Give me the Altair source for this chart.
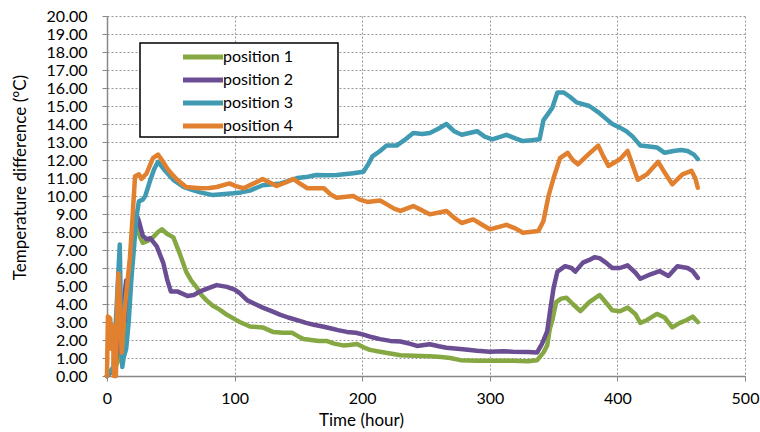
import altair as alt
import pandas as pd

series_names = ["position 1", "position 2", "position 3", "position 4"]
series_colors = ["#86A843", "#6A4D93", "#3F9AB2", "#E1802F"]

x_ticks = [0, 100, 200, 300, 400, 500]
y_ticks = [float(v) for v in range(0, 21)]

position_1 = [(0, 0), (5, 0.3), (10, 1.0), (14, 2.5), (17, 4.5), (20, 7.0), (23, 8.5), (26, 7.7), (28, 7.4),
              (32, 7.5), (36, 7.7), (40, 8.0), (43, 8.15), (47, 7.9), (52, 7.7), (57, 6.8), (62, 5.8), (66, 5.3),
              (70, 4.95), (74, 4.5), (78, 4.2), (83, 3.9), (88, 3.7), (94, 3.4), (99, 3.2), (104, 3.0),
              (112, 2.75), (122, 2.7), (130, 2.45), (138, 2.4), (145, 2.4), (150, 2.2), (154, 2.05), (160, 2.0),
              (166, 1.95), (172, 1.95), (178, 1.8), (185, 1.7), (190, 1.72), (196, 1.78), (201, 1.6), (206, 1.45),
              (214, 1.35), (222, 1.25), (230, 1.15), (240, 1.12), (253, 1.1), (262, 1.05), (269, 1.0), (277, 0.88),
              (290, 0.85), (300, 0.85), (318, 0.85), (330, 0.82), (337, 0.87), (342, 1.3), (345, 1.7), (347, 2.6),
              (349, 3.1), (352, 4.1), (356, 4.3), (360, 4.35), (365, 4.0), (371, 3.6), (378, 4.1), (386, 4.5),
              (392, 4.0), (396, 3.65), (402, 3.6), (408, 3.8), (414, 3.45), (418, 2.95), (423, 3.1), (431, 3.45),
              (437, 3.25), (443, 2.7), (449, 2.95), (454, 3.1), (459, 3.3), (463, 3.0)]

position_2 = [(0, 0), (6, 0.5), (10, 2.0), (13, 4.0), (15, 5.3), (16.5, 3.0), (19, 6.0), (21, 8.0), (23, 9.0),
              (25, 8.6), (28, 7.8), (31, 7.6), (34, 7.65), (39, 7.2), (44, 6.3), (47, 5.4), (50, 4.7), (55, 4.7),
              (63, 4.45), (68, 4.5), (73, 4.7), (80, 4.9), (86, 5.05), (94, 4.95), (100, 4.8), (104, 4.6),
              (110, 4.2), (116, 4.0), (122, 3.8), (129, 3.6), (136, 3.4), (142, 3.25), (149, 3.1), (156, 2.95),
              (162, 2.85), (169, 2.75), (175, 2.65), (181, 2.55), (188, 2.45), (195, 2.4), (201, 2.3), (208, 2.15),
              (214, 2.05), (222, 1.95), (230, 1.92), (237, 1.8), (243, 1.67), (253, 1.76), (260, 1.65),
              (266, 1.57), (279, 1.48), (290, 1.4), (300, 1.35), (310, 1.38), (318, 1.35), (330, 1.33),
              (337, 1.3), (341, 1.8), (345, 2.5), (347, 3.5), (350, 4.9), (353, 5.8), (359, 6.1), (364, 6.0),
              (367, 5.8), (373, 6.3), (378, 6.45), (382, 6.6), (386, 6.55), (391, 6.3), (396, 6.0), (402, 6.0),
              (408, 6.15), (414, 5.75), (418, 5.4), (426, 5.65), (433, 5.83), (440, 5.56), (447, 6.1), (455, 6.0),
              (459, 5.83), (463, 5.45)]

position_3 = [(0, 0), (5, 0.5), (8, 4.5), (10, 7.3), (11, 3.0), (12, 0.5), (13, 1.0), (15, 1.5), (17, 3.0),
              (19, 5.3), (21, 7.0), (23, 8.8), (25, 9.7), (28, 9.8), (30, 10.0), (34, 10.9), (37, 11.5),
              (40, 11.9), (45, 11.45), (52, 10.9), (60, 10.5), (66, 10.35), (73, 10.2), (83, 10.05), (90, 10.1),
              (99, 10.15), (105, 10.2), (112, 10.3), (122, 10.6), (136, 10.7), (143, 10.85), (149, 11.0),
              (156, 11.05), (164, 11.17), (172, 11.15), (180, 11.17), (193, 11.26), (201, 11.35), (205, 11.8),
              (208, 12.2), (214, 12.5), (219, 12.8), (227, 12.8), (233, 13.1), (240, 13.5), (247, 13.45),
              (253, 13.5), (260, 13.75), (266, 14.0), (272, 13.6), (278, 13.4), (290, 13.6), (296, 13.3),
              (302, 13.15), (313, 13.4), (320, 13.2), (326, 13.05), (333, 13.1), (339, 13.15), (342, 14.2),
              (347, 14.7), (349, 14.9), (353, 15.75), (358, 15.75), (363, 15.5), (368, 15.2), (378, 15.0),
              (386, 14.6), (391, 14.3), (396, 14.0), (402, 13.8), (407, 13.6), (412, 13.3), (418, 12.8),
              (425, 12.75), (431, 12.7), (437, 12.4), (444, 12.5), (450, 12.55), (455, 12.5), (460, 12.3),
              (463, 12.05)]

position_4 = [(0, 0), (0.7, 3.3), (2.5, 3.2), (3.5, 1.5), (4.5, 2.8), (5.5, 0), (7, 0), (8, 4.0), (9, 5.7),
              (10, 4.0), (11.5, 1.3), (12.5, 2.5), (14, 3.8), (16, 5.2), (18, 6.6), (20, 8.8), (22, 11.1),
              (25, 11.2), (27, 10.95), (31, 11.25), (36, 12.1), (40, 12.3), (44, 11.9), (47, 11.55), (51, 11.2),
              (55, 10.9), (62, 10.5), (73, 10.43), (80, 10.45), (86, 10.5), (96, 10.7), (101, 10.55),
              (107, 10.43), (115, 10.7), (122, 10.95), (133, 10.56), (140, 10.75), (146, 10.95), (151, 10.7),
              (157, 10.43), (170, 10.43), (175, 10.1), (180, 9.9), (193, 10.0), (198, 9.8), (204, 9.67),
              (214, 9.75), (219, 9.55), (225, 9.3), (230, 9.17), (240, 9.44), (247, 9.2), (253, 8.98),
              (266, 9.17), (272, 8.8), (278, 8.5), (287, 8.7), (294, 8.4), (300, 8.15), (313, 8.4), (320, 8.2),
              (326, 7.96), (338, 8.05), (342, 8.6), (346, 10.0), (350, 11.0), (355, 12.1), (361, 12.4),
              (365, 12.0), (369, 11.76), (377, 12.3), (385, 12.8), (389, 12.2), (393, 11.67), (402, 12.04),
              (408, 12.5), (412, 11.7), (416, 10.9), (423, 11.2), (432, 11.9), (437, 11.3), (443, 10.65),
              (451, 11.2), (458, 11.4), (461, 11.0), (463, 10.46)]

rows = []
for name, pts in zip(series_names, [position_1, position_2, position_3, position_4]):
    for i, (t, v) in enumerate(pts):
        rows.append({"series": name, "time": t, "value": v, "order": i})
df = pd.DataFrame(rows)

FONT = "Lato"

frame = alt.Chart(pd.DataFrame({"k": [0]})).mark_rect(
    fill="white", stroke="black", strokeWidth=1.5
).encode(
    x=alt.value(33), x2=alt.value(231), y=alt.value(27), y2=alt.value(121)
)

lines = alt.Chart(df).mark_line(strokeWidth=4.5, strokeJoin="round", strokeCap="round").encode(
    x=alt.X("time:Q", scale=alt.Scale(domain=[0, 500], nice=False),
            axis=alt.Axis(values=x_ticks, format="d", title="Time (hour)", labelFlush=False,
                          titleX=254, titleY=36, titleBaseline="top", titleAlign="center",
                          titleFontSize=17)),
    y=alt.Y("value:Q", scale=alt.Scale(domain=[0, 20], nice=False),
            axis=alt.Axis(values=y_ticks, format=".2f", title="Temperature difference (°C)",
                          labelFlush=False,
                          titleX=-87, titleY=161, titleAlign="center", titleBaseline="middle",
                          titleAngle=-90)),
    color=alt.Color("series:N", scale=alt.Scale(domain=series_names, range=series_colors),
                    legend=alt.Legend(title=None, orient="none", legendX=88, legendY=33,
                                      symbolType="M-4,0H4", symbolSize=100, symbolStrokeWidth=5,
                                      labelFontSize=16, labelFont=FONT, labelColor="black",
                                      labelOffset=12, rowPadding=3, padding=0)),
    order="order:Q",
)

chart = alt.layer(lines, frame).properties(
    width=638, height=360,
    padding={"left": 107, "top": 16, "right": 15, "bottom": 56},
    autosize=alt.AutoSizeParams(type="none"),
).configure_view(stroke=None).configure_axis(
    labelFont=FONT, titleFont=FONT, labelFontSize=16, titleFontSize=17,
    labelColor="black", titleColor="black", titleFontWeight="normal",
    domainColor="#888888", domainWidth=1.5, tickColor="#888888", tickSize=5,
    gridColor="#999999", gridDash=[2, 2], gridWidth=1,
).configure_axisX(labelPadding=9).configure_axisY(labelPadding=15)

chart.save("out.html", embed_options={"renderer": "svg", "actions": False})
